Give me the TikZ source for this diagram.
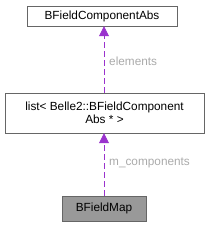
\documentclass[tikz,border=0pt]{standalone}
\usepackage{fontspec}
\setmainfont{Liberation Sans}
\usetikzlibrary{arrows.meta,positioning}
\definecolor{boxline}{HTML}{666666}
\definecolor{curfill}{HTML}{999999}
\definecolor{relline}{HTML}{9A32CD}
\definecolor{labelgrey}{HTML}{AAAAAA}

\begin{document}
\begin{tikzpicture}[x=1pt,y=1pt,
  cls/.style={draw=boxline,fill=white,inner sep=0pt,align=center,font=\fontsize{11.8}{13.5}\selectfont},
  cur/.style={cls,fill=curfill},
  rel/.style={-{Triangle[length=10pt,width=10pt]},draw=relline,thick,dash pattern=on 6pt off 3pt},
  lbl/.style={text=labelgrey,font=\fontsize{11.8}{13.5}\selectfont,anchor=west,inner sep=0pt}
]
\useasboundingbox (0,0) rectangle (209,-227);
\node[cls,minimum width=150pt,minimum height=20pt] (abs) at (102,-16) {BFieldComponentAbs};
\node[cls,minimum width=199pt,minimum height=40pt] (list) at (104.5,-113) {list< Belle2::BFieldComponent\\Abs * >};
\node[cur,minimum width=84pt,minimum height=25pt] (map) at (104,-208.5) {BFieldMap};

\draw[rel] (list.north -| 104,0) -- (abs.south -| 104,0);
\draw[rel] (map.north) -- (list.south -| 104,0);
\node[lbl] (elem) at (109,-61) {elements};
\node[lbl] (comp) at (109,-163) {m\_components};
\end{tikzpicture}
\end{document}
